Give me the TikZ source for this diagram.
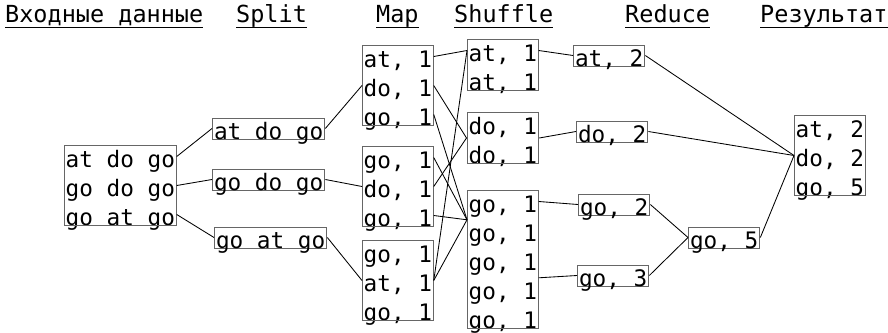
\documentclass[tikz,border=0pt]{standalone}
\usepackage{fontspec}
\setmonofont{DejaVu Sans Mono}
\usetikzlibrary{fit}
\definecolor{boxgray}{gray}{0.4}
\tikzset{
    row/.style={anchor=base west, inner xsep=1.5pt, inner ysep=0pt,
        text height=21pt, text depth=0pt,
        font=\ttfamily\fontsize{22.7}{29}\selectfont},
    box/.style={draw=boxgray, line width=1pt, inner sep=0pt},
    cell/.style={row, draw=boxgray, line width=1pt},
    head/.style={anchor=base west, inner sep=0pt,
        font=\ttfamily\fontsize{23.5}{29}\selectfont},
    link/.style={line width=0.85pt}
}
\begin{document}
\begin{tikzpicture}[x=1pt, y=-1pt]
    \useasboundingbox (0,0) rectangle (888,332);

    % Column titles
    \node[head] (hin) at (5,23) {Входные данные};
    \node[head] (hsp) at (236,23) {Split};
    \node[head] (hmap) at (376,23) {Map};
    \node[head] (hsh) at (454,23) {Shuffle};
    \node[head] (hred) at (625,23) {Reduce};
    \node[head] (hres) at (760,23) {Результат};
    \foreach \h in {hin,hsp,hmap,hsh,hred,hres}
        \draw[line width=0.9pt] ([yshift=-4pt]\h.base west) -- ([yshift=-4pt]\h.base east);

    % Input
    \node[row] (in1) at (64,167) {at do go};
    \node[row] (in2) at (64,196) {go do go};
    \node[row] (in3) at (64,225) {go at go};
    \node[box, fit=(in1)(in3)] (inbox) {};

    % Split
    \node[cell] (sp1) at (212,139) {at do go};
    \node[cell] (sp2) at (212,190) {go do go};
    \node[cell] (sp3) at (214,248) {go at go};

    % Map
    \node[row] (m1a) at (362,67) {at, 1};
    \node[row] (m1b) at (362,96) {do, 1};
    \node[row] (m1c) at (362,125) {go, 1};
    \node[box, fit=(m1a)(m1c)] (m1) {};
    \node[row] (m2a) at (362,168) {go, 1};
    \node[row] (m2b) at (362,197) {do, 1};
    \node[row] (m2c) at (362,226) {go, 1};
    \node[box, fit=(m2a)(m2c)] (m2) {};
    \node[row] (m3a) at (362,262) {go, 1};
    \node[row] (m3b) at (362,291) {at, 1};
    \node[row] (m3c) at (362,320) {go, 1};
    \node[box, fit=(m3a)(m3c)] (m3) {};

    % Shuffle
    \node[row] (sa1) at (467,61) {at, 1};
    \node[row] (sa2) at (467,90) {at, 1};
    \node[box, fit=(sa1)(sa2)] (sa) {};
    \node[row] (sd1) at (467,134) {do, 1};
    \node[row] (sd2) at (467,163) {do, 1};
    \node[box, fit=(sd1)(sd2)] (sd) {};
    \foreach \i/\y in {1/212,2/241,3/270,4/299,5/328}
        \node[row] (sg\i) at (467,\y) {go, 1};
    \node[box, fit=(sg1)(sg5)] (sg) {};

    % Reduce
    \node[cell] (ra) at (573,66) {at, 2};
    \node[cell] (rd) at (576,142) {do, 2};
    \node[cell] (rg2) at (578,215) {go, 2};
    \node[cell] (rg3) at (577,286) {go, 3};
    \node[cell] (rg5) at (688,248) {go, 5};

    % Result
    \node[row] (res1) at (794,137) {at, 2};
    \node[row] (res2) at (794,166) {do, 2};
    \node[row] (res3) at (794,195) {go, 5};
    \node[box, fit=(res1)(res3)] (res) {};

    % Connectors
    \draw[link] (in1.east) -- (sp1.west);
    \draw[link] (in2.east) -- (sp2.west);
    \draw[link] (in3.east) -- (sp3.west);
    \draw[link] (sp1.east) -- (m1b.west);
    \draw[link] (sp2.east) -- (m2b.west);
    \draw[link] (sp3.east) -- (m3b.west);

    \draw[link] (m1a.east) -- (sa1.west);
    \draw[link] (m1b.east) -- (sd.west);
    \draw[link] (m1c.east) -- (sg2.north west);
    \draw[link] (m2a.east) -- (sg2.north west);
    \draw[link] (m2b.east) -- (sd.west);
    \draw[link] (m2c.east) -- (sg2.north west);
    \draw[link] (m3b.east) -- (sa1.west);
    \draw[link] (m3b.east) -- (sg2.north west);

    \draw[link] (sa1.east) -- (ra.west);
    \draw[link] (sd.east) -- (rd.west);
    \draw[link] (sg1.east) -- (rg2.west);
    \draw[link] (sg4.north east) -- (rg3.west);
    \draw[link] (rg2.east) -- (rg5.west);
    \draw[link] (rg3.east) -- (rg5.west);

    \draw[link] (ra.east) -- (res2.west);
    \draw[link] (rd.east) -- (res2.west);
    \draw[link] (rg5.east) -- (res2.west);
\end{tikzpicture}
\end{document}
